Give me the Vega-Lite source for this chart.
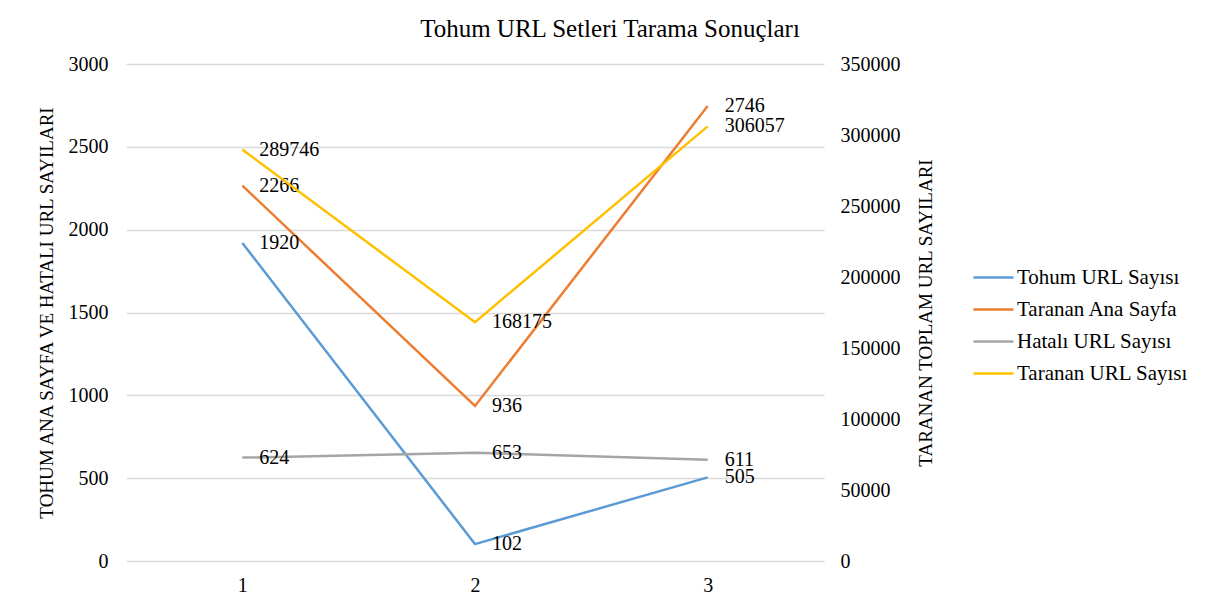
{
  "$schema": "https://vega.github.io/schema/vega-lite/v6.json",
  "autosize": {"type": "none"},
  "width": 698,
  "height": 497,
  "padding": {"left": 126, "top": 64, "right": 384, "bottom": 44},
  "background": "white",
  "config": {
    "font": "Liberation Serif",
    "view": {"stroke": null},
    "axis": {"labelColor": "#000000", "titleColor": "#000000", "labelFont": "Liberation Serif", "titleFont": "Liberation Serif"}
  },
  "title": {
    "text": "Tohum URL Setleri Tarama Sonuçları",
    "font": "Liberation Serif",
    "fontSize": 25,
    "fontWeight": "normal",
    "color": "#000000",
    "anchor": "middle",
    "dx": 135,
    "offset": 12,
    "limit": 0
  },
  "data": {
    "values": [
      {"x": "1", "series": "Tohum URL Sayısı", "value": 1920},
      {"x": "2", "series": "Tohum URL Sayısı", "value": 102},
      {"x": "3", "series": "Tohum URL Sayısı", "value": 505},
      {"x": "1", "series": "Taranan Ana Sayfa", "value": 2266},
      {"x": "2", "series": "Taranan Ana Sayfa", "value": 936},
      {"x": "3", "series": "Taranan Ana Sayfa", "value": 2746},
      {"x": "1", "series": "Hatalı URL Sayısı", "value": 624},
      {"x": "2", "series": "Hatalı URL Sayısı", "value": 653},
      {"x": "3", "series": "Hatalı URL Sayısı", "value": 611},
      {"x": "1", "series": "Taranan URL Sayısı", "value": 289746},
      {"x": "2", "series": "Taranan URL Sayısı", "value": 168175},
      {"x": "3", "series": "Taranan URL Sayısı", "value": 306057}
    ]
  },
  "encoding": {
    "x": {
      "field": "x",
      "type": "ordinal",
      "scale": {"paddingInner": 0, "paddingOuter": 0},
      "axis": {"title": null, "labelAngle": 0, "domain": false, "ticks": false, "grid": false, "labelFontSize": 20, "labelPadding": 14}
    },
    "color": {
      "field": "series",
      "type": "nominal",
      "scale": {
        "domain": ["Tohum URL Sayısı", "Taranan Ana Sayfa", "Hatalı URL Sayısı", "Taranan URL Sayısı"],
        "range": ["#5B9BD5", "#ED7D31", "#A5A5A5", "#FFC000"]
      },
      "legend": {
        "title": null,
        "orient": "none",
        "legendX": 846,
        "legendY": 192,
        "symbolType": "stroke",
        "symbolSize": 1600,
        "symbolStrokeWidth": 2.5,
        "labelFontSize": 21,
        "labelOffset": 2,
        "labelColor": "#000000",
        "labelFont": "Liberation Serif",
        "labelLimit": 300,
        "rowPadding": -8
      }
    }
  },
  "layer": [
    {
      "transform": [{"filter": "datum.series !== 'Taranan URL Sayısı'"}],
      "encoding": {
        "y": {
          "field": "value",
          "type": "quantitative",
          "scale": {"domain": [0, 3000], "nice": false},
          "axis": {
            "title": "TOHUM ANA  SAYFA VE HATALI URL SAYILARI",
            "values": [0, 500, 1000, 1500, 2000, 2500, 3000],
            "format": "d",
            "domain": false,
            "ticks": false,
            "grid": true,
            "gridColor": "#d9d9d9",
            "gridWidth": 1.5,
            "labelFontSize": 20,
            "labelPadding": 18,
            "titleFontSize": 19,
            "titleFontWeight": "normal",
            "titlePadding": 12,
            "titleLimit": 600
          }
        }
      },
      "layer": [
        {"mark": {"type": "line", "strokeWidth": 2.5}},
        {
          "mark": {"type": "text", "align": "left", "baseline": "middle", "dx": 17, "fontSize": 20, "color": "#000000"},
          "encoding": {"text": {"field": "value", "type": "quantitative", "format": "d"}, "color": {"value": "#000000"}}
        }
      ]
    },
    {
      "transform": [{"filter": "datum.series === 'Taranan URL Sayısı'"}],
      "encoding": {
        "y": {
          "field": "value",
          "type": "quantitative",
          "scale": {"domain": [0, 350000], "nice": false},
          "axis": {
            "orient": "right",
            "title": "TARANAN TOPLAM URL SAYILARI",
            "values": [0, 50000, 100000, 150000, 200000, 250000, 300000, 350000],
            "format": "d",
            "domain": false,
            "ticks": false,
            "grid": false,
            "labelFontSize": 20,
            "labelPadding": 16,
            "titleFontSize": 19,
            "titleFontWeight": "normal",
            "titleAngle": -90,
            "titleBaseline": "bottom",
            "titlePadding": 35,
            "titleLimit": 600
          }
        }
      },
      "layer": [
        {"mark": {"type": "line", "strokeWidth": 2.5}},
        {
          "mark": {"type": "text", "align": "left", "baseline": "middle", "dx": 17, "fontSize": 20, "color": "#000000"},
          "encoding": {"text": {"field": "value", "type": "quantitative", "format": "d"}, "color": {"value": "#000000"}}
        }
      ]
    }
  ],
  "resolve": {"scale": {"y": "independent"}}
}
